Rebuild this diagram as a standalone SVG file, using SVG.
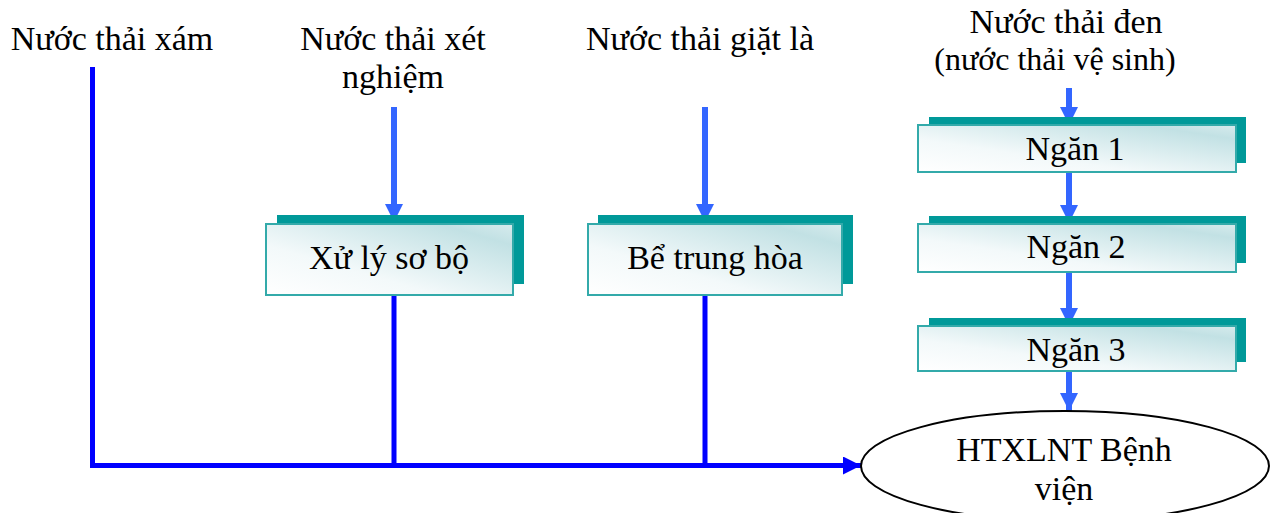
<svg xmlns="http://www.w3.org/2000/svg" width="1272" height="513" viewBox="0 0 1272 513">
<defs>
<linearGradient id="g" x1="0" y1="1" x2="1" y2="0">
<stop offset="0" stop-color="#FFFFFF"/>
<stop offset="0.35" stop-color="#F3F9FA"/>
<stop offset="0.85" stop-color="#C2E1E4"/>
<stop offset="1" stop-color="#D6EBED"/>
</linearGradient>
<marker id="ah" viewBox="0 0 18 18" markerWidth="18" markerHeight="18" refX="18" refY="9" markerUnits="userSpaceOnUse" orient="auto">
<path d="M0,0 L18,9 L0,18 Z" fill="#3366FF"/>
</marker>
<marker id="ahd" viewBox="0 0 18 18" markerWidth="18" markerHeight="18" refX="18" refY="9" markerUnits="userSpaceOnUse" orient="auto">
<path d="M0,0 L18,9 L0,18 Z" fill="#0000FF"/>
</marker>
</defs>
<style>
text{font-family:"Liberation Serif","Times New Roman",serif;fill:#000;}
.t{font-size:34px;}
.s{font-size:32px;}
.shadow{fill:#009999;}
.box{fill:url(#g);stroke:#33AAAA;stroke-width:2;}
.main{fill:none;stroke:#0000FF;stroke-width:5;}
.arr{fill:none;stroke:#3366FF;stroke-width:6;}
</style>

<g id="lbl-xam"><text class="t" x="112" y="50" text-anchor="middle">Nước thải xám</text></g>
<g id="lbl-xetnghiem"><text class="t" x="393" y="50" text-anchor="middle">Nước thải xét</text><text class="t" x="393" y="88" text-anchor="middle">nghiệm</text></g>
<g id="lbl-giatla"><text class="t" x="700" y="50" text-anchor="middle">Nước thải giặt là</text></g>
<g id="lbl-den"><text class="t" x="1066" y="33" text-anchor="middle">Nước thải đen</text><text class="s" x="1055" y="70" text-anchor="middle">(nước thải vệ sinh)</text></g>

<g id="connectors">
<polyline class="main" points="92.5,67 92.5,465.5 861,465.5" marker-end="url(#ahd)"/>
<line class="main" x1="394" y1="295" x2="394" y2="465.5"/>
<line class="main" x1="705" y1="295" x2="705" y2="465.5"/>
<line class="arr" x1="394" y1="107" x2="394" y2="222" marker-end="url(#ah)"/>
<line class="arr" x1="705" y1="107" x2="705" y2="222" marker-end="url(#ah)"/>
<line class="arr" x1="1069" y1="88" x2="1069" y2="125" marker-end="url(#ah)"/>
<line class="arr" x1="1069" y1="173" x2="1069" y2="223" marker-end="url(#ah)"/>
<line class="arr" x1="1069" y1="272" x2="1069" y2="326" marker-end="url(#ah)"/>
<line class="arr" x1="1069" y1="371" x2="1069" y2="411" marker-end="url(#ah)"/>
</g>

<g id="n-xuly">
<rect class="shadow" x="277" y="215" width="247" height="69"/>
<rect class="box" x="266" y="224" width="247" height="71"/>
<text class="t" x="389" y="269" text-anchor="middle">Xử lý sơ bộ</text>
</g>
<g id="n-trunghoa">
<rect class="shadow" x="598" y="215" width="255" height="69"/>
<rect class="box" x="588" y="224" width="254" height="71"/>
<text class="t" x="715" y="269" text-anchor="middle">Bể trung hòa</text>
</g>
<g id="n-ngan1">
<rect class="shadow" x="929" y="117" width="317" height="46"/>
<rect class="box" x="918" y="125" width="318" height="47"/>
<text class="t" x="1075" y="160" text-anchor="middle">Ngăn 1</text>
</g>
<g id="n-ngan2">
<rect class="shadow" x="929" y="216" width="317" height="47"/>
<rect class="box" x="918" y="224" width="318" height="48"/>
<text class="t" x="1076" y="258" text-anchor="middle">Ngăn 2</text>
</g>
<g id="n-ngan3">
<rect class="shadow" x="929" y="318" width="317" height="44"/>
<rect class="box" x="918" y="326" width="318" height="45"/>
<text class="t" x="1076" y="361" text-anchor="middle">Ngăn 3</text>
</g>
<g id="n-htxlnt">
<ellipse cx="1065" cy="466" rx="204" ry="55" fill="#FFFFFF" stroke="#000" stroke-width="2"/>
<text class="t" x="1064" y="461" text-anchor="middle">HTXLNT Bệnh</text>
<text class="t" x="1064" y="500" text-anchor="middle">viện</text>
</g>
</svg>
